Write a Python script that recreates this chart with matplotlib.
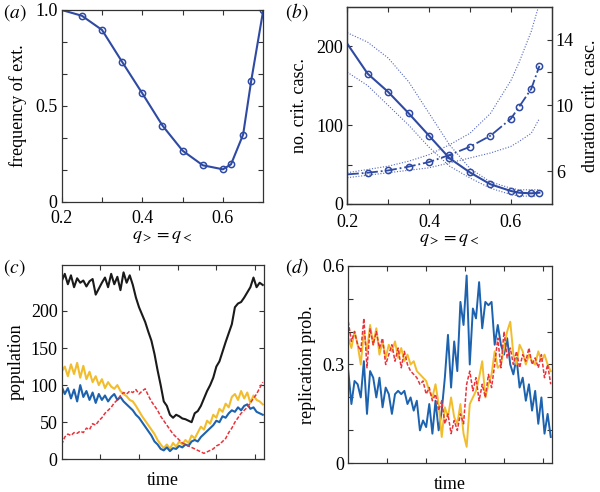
#!/usr/bin/env python3
"""Four-panel figure: extinction frequency, critical cascades, population and
replication probability time series."""

import matplotlib
matplotlib.use("Agg")
import matplotlib.pyplot as plt

plt.rcParams["font.family"] = ["Liberation Serif", "DejaVu Serif"]
plt.rcParams["mathtext.fontset"] = "stix"
plt.rcParams["font.size"] = 13

# ---- panel (a): frequency of extinction vs q ----
q_a = [0.2, 0.25, 0.3, 0.35, 0.4, 0.45, 0.5, 0.55, 0.6, 0.62, 0.65, 0.67, 0.7]
freq_ext = [1.0, 0.97, 0.896, 0.729, 0.565, 0.397, 0.266, 0.19, 0.169,
            0.195, 0.35, 0.63, 1.0]

# ---- panel (b): number and duration of critical cascades ----
q_b = [0.2, 0.25, 0.3, 0.35, 0.4, 0.45, 0.5, 0.55, 0.6, 0.62, 0.65, 0.67]
n_casc = [203, 165, 142, 115, 86.5, 58, 40, 25, 16.5, 14.3, 13.5, 14.3]
n_casc_hi = [217, 205, 185, 155, 115, 75, 45, 28, 20, 18, 18, 18]
n_casc_lo = [167, 150, 125, 100, 72, 48, 33, 20, 12, 10, 10, 10]
dur_casc = [5.8, 5.9, 6.04, 6.27, 6.55, 6.98, 7.48, 8.15, 9.18, 9.9, 11.0, 12.4]
dur_casc_hi = [5.9, 6.1, 6.3, 6.6, 7.0, 7.6, 8.3, 9.5, 11.5, 12.6, 14.5, 16.2]
dur_casc_lo = [5.6, 5.75, 5.9, 6.05, 6.2, 6.5, 6.8, 7.1, 7.5, 7.8, 8.3, 9.2]

# ---- panels (c) and (d): time series ----
t = list(range(0, 131, 2))
pop_total = [240, 250, 236, 248, 232, 244, 238, 241, 233, 240, 243, 222, 230,
             238, 245, 232, 250, 236, 246, 228, 252, 238, 248, 235, 218, 205,
             195, 185, 172, 160, 142, 120, 100, 78, 72, 60, 56, 60, 58, 55,
             54, 52, 50, 62, 65, 72, 82, 92, 100, 110, 125, 132, 145, 158,
             170, 182, 205, 210, 212, 218, 225, 232, 245, 232, 238, 235]
pop_yellow = [118, 125, 112, 128, 115, 130, 110, 126, 108, 118, 104, 112, 100,
              108, 96, 104, 98, 95, 100, 92, 88, 85, 80, 78, 72, 65, 58, 52,
              46, 40, 34, 26, 20, 15, 20, 14, 22, 17, 24, 20, 26, 22, 32, 28,
              36, 44, 40, 52, 48, 60, 56, 68, 64, 75, 70, 84, 88, 80, 92, 82,
              90, 76, 86, 80, 78, 74]
pop_blue = [98, 88, 96, 82, 94, 78, 100, 84, 92, 80, 90, 76, 88, 80, 86, 78,
            84, 88, 80, 84, 78, 74, 70, 66, 60, 56, 50, 44, 38, 32, 24, 20, 14,
            12, 16, 11, 15, 14, 18, 16, 20, 18, 24, 26, 24, 30, 34, 38, 42, 46,
            52, 50, 58, 56, 62, 66, 64, 70, 66, 72, 74, 68, 70, 64, 62, 60]
pop_red = [20, 30, 34, 32, 36, 35, 38, 36, 42, 40, 48, 46, 52, 56, 62, 66, 70,
           76, 80, 86, 90, 88, 92, 90, 94, 88, 92, 95, 86, 78, 72, 66, 58, 52,
           46, 40, 34, 30, 26, 22, 20, 18, 16, 14, 12, 10, 8, 10, 12, 14, 18,
           20, 24, 28, 36, 42, 50, 56, 62, 66, 70, 76, 82, 88, 96, 104]

rep_blue = [0.28, 0.18, 0.25, 0.24, 0.20, 0.31, 0.15, 0.28, 0.26, 0.20, 0.26,
            0.17, 0.23, 0.21, 0.15, 0.21, 0.22, 0.21, 0.22, 0.18, 0.20, 0.16,
            0.19, 0.10, 0.13, 0.11, 0.18, 0.09, 0.19, 0.10, 0.16, 0.26, 0.39,
            0.23, 0.37, 0.28, 0.49, 0.42, 0.57, 0.30, 0.47, 0.44, 0.55, 0.41,
            0.49, 0.48, 0.49, 0.36, 0.42, 0.36, 0.33, 0.38, 0.30, 0.27, 0.32,
            0.23, 0.26, 0.19, 0.24, 0.16, 0.22, 0.12, 0.20, 0.09, 0.15, 0.08]
rep_yellow = [0.38, 0.35, 0.40, 0.36, 0.30, 0.40, 0.34, 0.42, 0.36, 0.41, 0.33,
              0.37, 0.32, 0.36, 0.34, 0.37, 0.32, 0.35, 0.31, 0.33, 0.30, 0.31,
              0.28, 0.27, 0.26, 0.25, 0.22, 0.20, 0.24, 0.18, 0.08, 0.17, 0.14,
              0.20, 0.14, 0.12, 0.18, 0.09, 0.05, 0.18, 0.20, 0.22, 0.26, 0.31,
              0.20, 0.24, 0.27, 0.34, 0.29, 0.30, 0.35, 0.40, 0.43, 0.33, 0.30,
              0.36, 0.34, 0.30, 0.33, 0.31, 0.30, 0.34, 0.31, 0.33, 0.30, 0.28]
rep_red = [0.43, 0.37, 0.40, 0.36, 0.34, 0.44, 0.29, 0.41, 0.36, 0.40, 0.35,
           0.38, 0.30, 0.33, 0.36, 0.31, 0.35, 0.29, 0.34, 0.30, 0.28, 0.27,
           0.26, 0.24, 0.25, 0.21, 0.23, 0.19, 0.21, 0.16, 0.19, 0.12, 0.15,
           0.09, 0.13, 0.10, 0.15, 0.12, 0.24, 0.28, 0.22, 0.26, 0.19, 0.24,
           0.20, 0.27, 0.23, 0.30, 0.38, 0.29, 0.40, 0.32, 0.35, 0.30, 0.34,
           0.29, 0.33, 0.31, 0.35, 0.30, 0.32, 0.29, 0.33, 0.26, 0.30, 0.24]

BLUE_A = "#2e4aa3"
BLUE_DOT = "#5468bd"
C_BLACK = "#1a1a1a"
C_YELLOW = "#f2bd2c"
C_BLUE = "#1c62ae"
C_RED = "#e8333d"
FRAME = "#333333"


def style_axes(ax, right=True, xpad=3):
    for sp in ax.spines.values():
        sp.set_color(FRAME)
        sp.set_linewidth(0.9)
    ax.tick_params(direction="in", length=3.5, width=0.8, color=FRAME,
                   top=True, right=right, pad=3, labelsize=13)
    ax.tick_params(axis="x", pad=xpad)


def main():
    fig = plt.figure(figsize=(6.0, 4.92), dpi=100)

    # (a)
    ax = fig.add_axes([0.1028, 0.590, 0.336, 0.3897])
    ax.plot(q_a, freq_ext, color=BLUE_A, lw=1.5, marker="o", ms=4.5,
            mfc="none", mec=BLUE_A, mew=1.1, markevery=list(range(1, len(q_a))))
    ax.set_xlim(0.2, 0.7)
    ax.set_ylim(0, 1)
    ax.set_xticks([0.2, 0.3, 0.4, 0.5, 0.6])
    ax.set_xticklabels(["0.2", "", "0.4", "", "0.6"])
    ax.set_yticks([i / 6 for i in range(7)])
    ax.set_yticklabels(["0", "", "", "0.5", "", "", "1.0"])
    ax.set_ylabel("frequency of ext.", labelpad=6)
    style_axes(ax, xpad=6)
    ax.set_xlabel("$q_{>} = q_{<}$", labelpad=1)
    fig.text(0.005, 0.975, "$(a)$", fontsize=14, va="center")

    # (b)
    ax = fig.add_axes([0.5788, 0.5854, 0.3407, 0.401])
    ax2 = ax.twinx()
    ax.plot(q_b, n_casc, color=BLUE_A, lw=1.5, marker="o", ms=4.5, mfc="none",
            mec=BLUE_A, mew=1.1, markevery=list(range(1, len(q_b))))
    ax.plot(q_b, n_casc_hi, color=BLUE_DOT, lw=0.8, ls=(0, (1, 1.5)))
    ax.plot(q_b, n_casc_lo, color=BLUE_DOT, lw=0.8, ls=(0, (1, 1.5)))
    ax2.plot(q_b, dur_casc, color=BLUE_A, lw=1.3, ls="-.", marker="o", ms=4.5,
             mfc="none", mec=BLUE_A, mew=1.1, markevery=list(range(1, len(q_b))))
    ax2.plot(q_b, dur_casc_hi, color=BLUE_DOT, lw=0.8, ls=(0, (1, 1.5)))
    ax2.plot(q_b, dur_casc_lo, color=BLUE_DOT, lw=0.8, ls=(0, (1, 1.5)))
    ax.set_xlim(0.2, 0.7)
    ax.set_ylim(0, 250)
    ax2.set_ylim(4, 16)
    ax.set_xticks([0.2, 0.3, 0.4, 0.5, 0.6])
    ax.set_xticklabels(["0.2", "", "0.4", "", "0.6"])
    ax.set_yticks([0, 50, 100, 150, 200])
    ax.set_yticklabels(["0", "", "100", "", "200"])
    ax2.set_yticks([6, 8, 10, 12, 14])
    ax2.set_yticklabels(["6", "", "10", "", "14"])
    ax.set_ylabel("no. crit. casc.", labelpad=6)
    ax2.set_ylabel("duration crit. casc.", labelpad=6)
    style_axes(ax, right=False, xpad=7)
    style_axes(ax2, xpad=7)
    ax2.tick_params(left=False, top=False)
    ax.set_xlabel("$q_{>} = q_{<}$", labelpad=0)
    fig.text(0.475, 0.975, "$(b)$", fontsize=14, va="center")

    # (c)
    ax = fig.add_axes([0.1028, 0.0665, 0.3377, 0.395])
    ax.plot(t, pop_total, color=C_BLACK, lw=1.5)
    ax.plot(t, pop_yellow, color=C_YELLOW, lw=1.5)
    ax.plot(t, pop_blue, color=C_BLUE, lw=1.5)
    ax.plot(t, pop_red, color=C_RED, lw=1.1, ls=(0, (2.5, 1.2)))
    ax.set_xlim(0, 131)
    ax.set_ylim(0, 262)
    ax.set_xticks([25, 50, 75, 100, 125])
    ax.set_xticklabels([])
    ax.set_yticks([0, 50, 100, 150, 200])
    ax.set_ylabel("population", labelpad=4)
    style_axes(ax)
    ax.set_xlabel("time", labelpad=6)
    fig.text(0.005, 0.457, "$(c)$", fontsize=14, va="center")

    # (d)
    ax = fig.add_axes([0.5805, 0.0583, 0.34, 0.4017])
    ax.plot(t, rep_blue, color=C_BLUE, lw=1.4)
    ax.plot(t, rep_yellow, color=C_YELLOW, lw=1.4)
    ax.plot(t, rep_red, color=C_RED, lw=1.1, ls=(0, (2.5, 1.2)))
    ax.set_xlim(0, 131)
    ax.set_ylim(0, 0.6)
    ax.set_xticks([25, 50, 75, 100, 125])
    ax.set_xticklabels([])
    ax.set_yticks([0, 0.1, 0.2, 0.3, 0.4, 0.5, 0.6])
    ax.set_yticklabels(["0", "", "", "0.3", "", "", "0.6"])
    ax.set_ylabel("replication prob.", labelpad=4)
    style_axes(ax)
    ax.set_xlabel("time", labelpad=6)
    fig.text(0.475, 0.457, "$(d)$", fontsize=14, va="center")

    fig.savefig("out.png", dpi=100)
    plt.close(fig)


if __name__ == "__main__":
    main()
